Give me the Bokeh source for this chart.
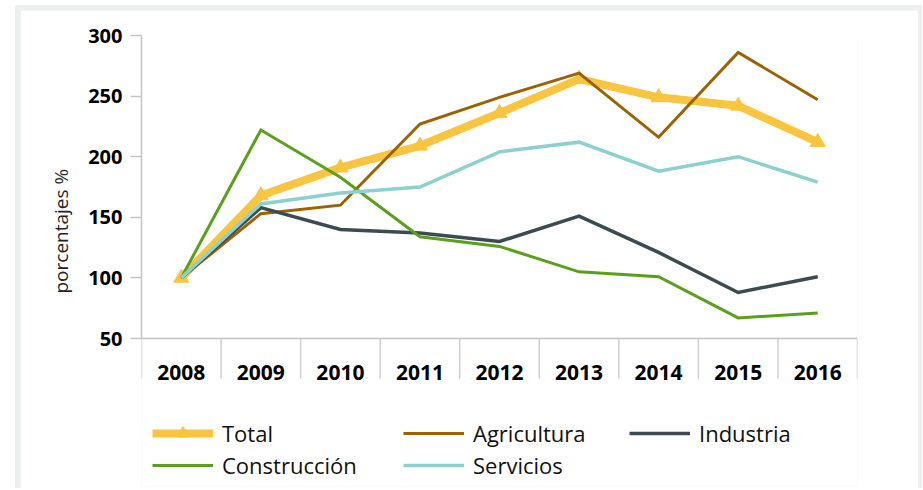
import numpy as np
from bokeh.plotting import figure
from bokeh.models import Range1d, FixedTicker, Legend, LegendItem, Title, Span
from bokeh.core.properties import value
from bokeh.layouts import column
from bokeh.embed import file_html
from bokeh.resources import INLINE

years = ["2008", "2009", "2010", "2011", "2012", "2013", "2014", "2015", "2016"]
total = [100, 168, 191, 209, 236, 264, 249, 242, 212]
agricultura = [100, 153, 160, 227, 249, 269, 216, 286, 247]
industria = [100, 158, 140, 137, 130, 151, 121, 88, 101]
construccion = [100, 222, 183, 134, 126, 105, 101, 67, 71]
servicios = [100, 161, 170, 175, 204, 212, 188, 200, 179]
y_ticks = [50, 100, 150, 200, 250, 300]
y_title = "porcentajes %"

FONT = "Open Sans"
W, H = 898, 478
TOP, BOTTOM, LEFT, RIGHT = 25, 2, 121, 61
PLOT_PX = 303                      # pixel height of the 50..300 value band
frame_h = H - TOP - BOTTOM
units_per_px = (y_ticks[-1] - y_ticks[0]) / PLOT_PX
y_min = y_ticks[-1] - frame_h * units_per_px

x = np.arange(len(years)) + 0.5
bounds = np.arange(len(years) + 1)

p = figure(width=W, height=H, output_backend="svg", toolbar_location=None,
           x_range=Range1d(0, len(years)), y_range=Range1d(y_min, y_ticks[-1]),
           x_axis_location=None,
           min_border_left=LEFT, min_border_right=RIGHT, min_border_top=TOP, min_border_bottom=BOTTOM,
           border_fill_color="white", background_fill_color="white")
p.outline_line_color = None
p.grid.visible = False

ya = p.yaxis[0]
ya.bounds = (y_ticks[0], y_ticks[-1])
ya.ticker = FixedTicker(ticks=y_ticks)
ya.minor_tick_line_color = None
ya.major_tick_out = 11
ya.major_tick_in = 0
ya.major_tick_line_color = "#c4c4c4"
ya.major_tick_line_width = 1.5
ya.axis_line_color = "#c4c4c4"
ya.axis_line_width = 1.5
ya.major_label_text_font = FONT
ya.major_label_text_font_style = "bold"
ya.major_label_text_font_size = "20px"
ya.major_label_text_color = "#000000"
ya.major_label_standoff = 8

# category axis: base line, boundary separators and year labels
p.add_layout(Span(location=y_ticks[0], dimension="width", line_color="#c4c4c4", line_width=1.5))
p.segment(x0=bounds, y0=[y_ticks[0]] * len(bounds), x1=bounds,
          y1=[y_ticks[0] - 40 * units_per_px] * len(bounds),
          line_color="#cfcfcf", line_width=1.5)
p.text(x=x, y=[y_ticks[0] - 34 * units_per_px] * len(years), text=years,
       text_font=value(FONT), text_font_style="bold", text_font_size="21px",
       text_color="#000000", text_align="center", text_baseline="middle")

r_tot_l = p.line(x, total, line_color="#F9C541", line_width=8, line_join="round")
r_tot_m = p.scatter(x, total, marker="triangle", size=15, fill_color="#F9C541", line_color="#F9C541")
r_agr = p.line(x, agricultura, line_color="#9C6100", line_width=3, line_join="miter")
r_ind = p.line(x, industria, line_color="#3C4A51", line_width=3.5, line_join="miter")
r_con = p.line(x, construccion, line_color="#5AA01C", line_width=3, line_join="miter")
r_ser = p.line(x, servicios, line_color="#8DD0D0", line_width=3.5, line_join="miter")

p.add_layout(Title(text=y_title, align="left", offset=193, standoff=20, vertical_align="top",
                   text_font=FONT, text_font_size="19px", text_font_style="normal",
                   text_color="#222222"), "left")

LH, SP = 30, 2

def mk_legend(items, lx, vy):
    return Legend(items=items, location=(lx, vy), orientation="vertical",
                  glyph_width=61, glyph_height=LH, label_height=LH,
                  label_standoff=9, spacing=SP, padding=0, margin=0,
                  label_text_font=FONT, label_text_font_size="22px", label_text_color="#111111",
                  background_fill_alpha=0, border_line_color=None)

p.add_layout(mk_legend([LegendItem(label="Total", renderers=[r_tot_l, r_tot_m]),
                        LegendItem(label="Construcción", renderers=[r_con])], 11, 6), "center")
p.add_layout(mk_legend([LegendItem(label="Agricultura", renderers=[r_agr]),
                        LegendItem(label="Servicios", renderers=[r_ser])], 262, 6), "center")
p.add_layout(mk_legend([LegendItem(label="Industria", renderers=[r_ind])], 488, 38), "center")

p.margin = (5, 4, 0, 5)
layout = column(p, styles={"background-color": "#eef0ef"}, margin=(5, 0, 0, 15))

open("out.html", "w").write(file_html(layout, INLINE))
